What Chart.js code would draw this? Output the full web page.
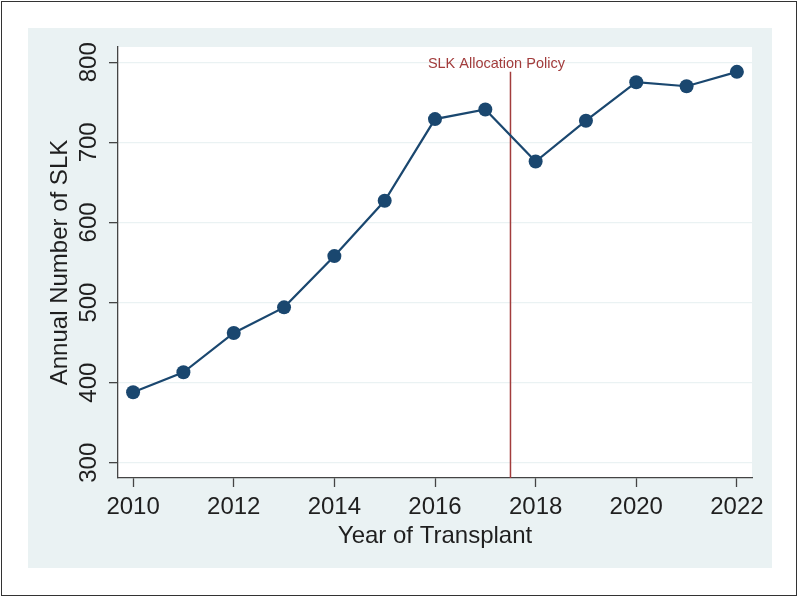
<!DOCTYPE html>
<html>
<head>
<meta charset="utf-8">
<script src="https://cdn.jsdelivr.net/npm/chart.js@4.4.1/dist/chart.umd.min.js"></script>
<style>
  html, body { margin: 0; padding: 0; background: #fff; }
  #frame { position: absolute; left: 1px; top: 1px; width: 794px; height: 593px; border: 1.5px solid #333; }
  #wrap { position: absolute; left: 28px; top: 28px; width: 744px; height: 540px; background: #eaf2f3; }
</style>
</head>
<body>
<div id="frame"></div>
<div id="wrap"><canvas id="slkChart" width="744" height="540"></canvas></div>
<script>
/* データ */
const years = [2010, 2011, 2012, 2013, 2014, 2015, 2016, 2017, 2018, 2019, 2020, 2021, 2022];
const slkCounts = [388, 413, 462, 494, 558, 627, 729, 741, 676, 727, 775, 770, 788];
const xTicks = [2010, 2012, 2014, 2016, 2018, 2020, 2022];
const yTicks = [300, 400, 500, 600, 700, 800];
const policyYear = 2017.5;
const policyTop = 788;
const policyLabel = 'SLK Allocation Policy';
const policyLabelAt = { x: 2017.22, y: 798 };

const X_MIN = 2009.7, X_MAX = 2022.3;
const Y_MIN = 281, Y_MAX = 819;

const FONT = "'Liberation Sans', Arial, sans-serif";
const NAVY = '#1a476f';
const RED = '#a23c3c';
const AXIS = '#444';
const GRID = '#eaf2f3';

/* プロット領域を白く塗り、注記テキストを描く */
const plotBg = {
  id: 'plotBg',
  beforeDraw(chart) {
    const { ctx, chartArea: a } = chart;
    ctx.save();
    ctx.fillStyle = '#fff';
    ctx.fillRect(a.left, a.top, a.right - a.left, a.bottom - a.top);
    ctx.restore();
  },
  afterDatasetsDraw(chart) {
    const { ctx, scales } = chart;
    ctx.save();
    ctx.font = `14.5px ${FONT}`;
    ctx.fillStyle = RED;
    ctx.textAlign = 'center';
    ctx.textBaseline = 'middle';
    ctx.fillText(policyLabel, scales.x.getPixelForValue(policyLabelAt.x), scales.y.getPixelForValue(policyLabelAt.y));
    ctx.restore();
  },
};

const ctx = document.getElementById('slkChart').getContext('2d');
new Chart(ctx, {
  type: 'line',
  data: {
    datasets: [
      {
        data: years.map((y, i) => ({ x: y, y: slkCounts[i] })),
        borderColor: NAVY,
        backgroundColor: NAVY,
        borderWidth: 2.2,
        pointRadius: 7,
        pointBackgroundColor: NAVY,
        pointBorderWidth: 0,
        tension: 0,
        order: 1,
      },
      {
        data: [{ x: policyYear, y: Y_MIN }, { x: policyYear, y: policyTop }],
        borderColor: RED,
        borderWidth: 1.5,
        pointRadius: 0,
        order: 2,
      },
    ],
  },
  options: {
    responsive: false,
    animation: false,
    layout: { padding: { top: 19, right: 20, left: 0, bottom: 0 } },
    plugins: { legend: { display: false }, tooltip: { enabled: false } },
    scales: {
      x: {
        type: 'linear',
        min: X_MIN,
        max: X_MAX,
        afterBuildTicks: s => { s.ticks = xTicks.map(v => ({ value: v })); },
        afterFit: s => { s.height = 90; },
        grid: { drawOnChartArea: false, tickColor: AXIS, tickLength: 9, tickWidth: 1.3 },
        border: { color: AXIS, width: 1.3 },
        ticks: { color: '#1f1f1f', font: { family: FONT, size: 24 }, padding: 6, maxRotation: 0, autoSkip: false, callback: v => String(v) },
        title: { display: true, text: 'Year of Transplant', color: '#1f1f1f', font: { family: FONT, size: 24 }, padding: { bottom: 17 } },
      },
      y: {
        min: Y_MIN,
        max: Y_MAX,
        afterBuildTicks: s => { s.ticks = yTicks.map(v => ({ value: v })); },
        afterFit: s => { s.width = 90; },
        grid: { color: GRID, lineWidth: 1.3, tickColor: AXIS, tickLength: 9, tickWidth: 1.3 },
        border: { color: AXIS, width: 1.3 },
        ticks: { color: '#1f1f1f', font: { family: FONT, size: 24 }, padding: 0, minRotation: 90, maxRotation: 90, crossAlign: 'center', autoSkip: false },
        title: { display: true, text: 'Annual Number of SLK', color: '#1f1f1f', font: { family: FONT, size: 24 }, padding: { top: 18 } },
      },
    },
  },
  plugins: [plotBg],
});
</script>
</body>
</html>
